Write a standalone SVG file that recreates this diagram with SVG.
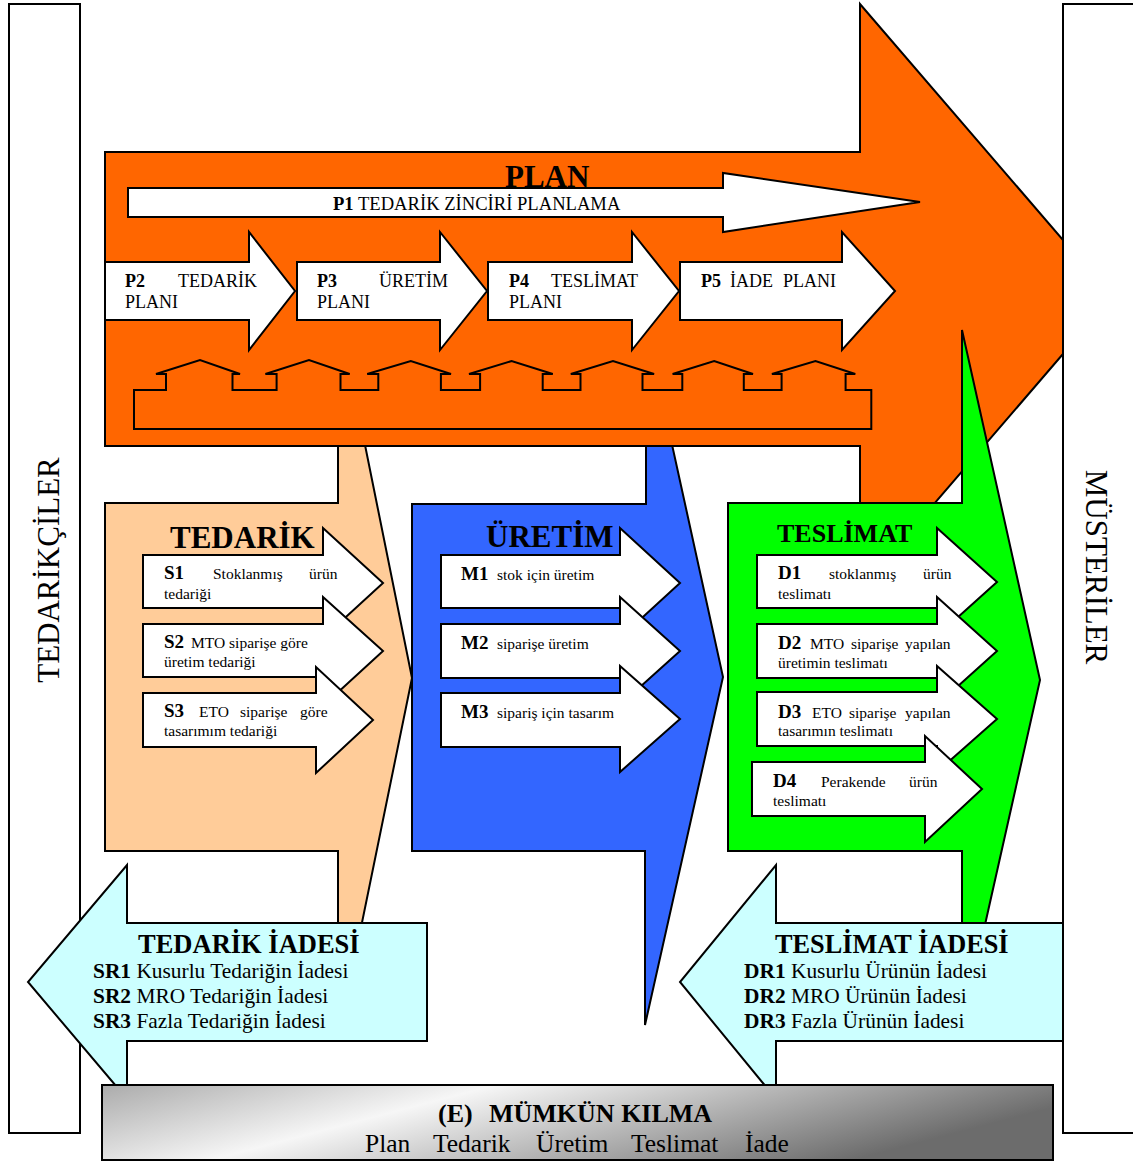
<svg xmlns="http://www.w3.org/2000/svg" width="1133" height="1162" viewBox="0 0 1133 1162">
  <defs>
    <linearGradient id="enableFill" x1="0" y1="0" x2="1" y2="0.3">
      <stop offset="0" stop-color="#ababab"/>
      <stop offset="0.38" stop-color="#f6f6f6"/>
      <stop offset="1" stop-color="#6c6c6c"/>
    </linearGradient>
  </defs>
  <style>
    .ol{stroke:#000;stroke-width:2;stroke-linejoin:miter}
    .wh{fill:#fff}
    .plan{fill:#ff6600}
    .sup{fill:#ffcc99}
    .mak{fill:#3366ff}
    .del{fill:#00ff00}
    .ret{fill:#ccffff}
    text{font-family:"Liberation Serif","Times New Roman",serif;fill:#000}
    .b{font-weight:bold}
    .t31{font-size:31px;font-weight:bold}
    .t26{font-size:26px;font-weight:bold}
    .p{font-size:18px}
    .s{font-size:15.5px}
    .sb{font-size:19px;font-weight:bold}
    .r{font-size:21.4px}
    .side{font-size:31px}
  </style>

  <!-- side bars -->
  <g id="suppliers">
    <rect class="ol wh" x="9" y="4" width="71" height="1129"/>
    <text class="side" text-anchor="middle" transform="translate(59,570) rotate(-90)">TEDARİKÇİLER</text>
  </g>

  <!-- process blocks lying under the plan arrow -->
  <g id="source">
    <polygon class="ol sup" points="105,503 338,503 338,440 364,440 412,678 338,1040 338,851 105,851"/>
  </g>
  <g id="make">
    <polygon class="ol mak" points="412,504 646,504 646,440 671,440 723,677 645,1025 645,851 412,851"/>
  </g>

  <!-- plan arrow -->
  <g id="plan">
    <polygon class="ol plan" points="105,152 860,152 860,4 1112,297 860,590 860,446 105,446"/>
    <polygon class="ol wh" points="128,188 723,188 723,173 920,202 723,232 723,217 128,217"/>
    <text class="t31" x="505" y="187">PLAN</text>
    <text x="333" y="210" style="font-size:18.6px"><tspan class="b">P1</tspan> TEDARİK ZİNCİRİ PLANLAMA</text>
  </g>
  <g id="p2">
    <polygon class="ol wh" points="105,262 249,262 249,232 295,291 249,350 249,320 105,320"/>
    <text class="p"><tspan class="b" x="125" y="287">P2</tspan><tspan x="178" y="287">TEDARİK</tspan><tspan x="125" y="308">PLANI</tspan></text>
  </g>
  <g id="p3">
    <polygon class="ol wh" points="297,262 440,262 440,232 487,291 440,350 440,320 297,320"/>
    <text class="p"><tspan class="b" x="317" y="287">P3</tspan><tspan x="379" y="287">ÜRETİM</tspan><tspan x="317" y="308">PLANI</tspan></text>
  </g>
  <g id="p4">
    <polygon class="ol wh" points="488,262 632,262 632,232 679,291 632,350 632,320 488,320"/>
    <text class="p"><tspan class="b" x="509" y="287">P4</tspan><tspan x="551" y="287">TESLİMAT</tspan><tspan x="509" y="308">PLANI</tspan></text>
  </g>
  <g id="p5">
    <polygon class="ol wh" points="680,262 842,262 842,232 895,291 842,350 842,320 680,320"/>
    <text class="p"><tspan class="b" x="701" y="287">P5</tspan><tspan x="730" y="287">İADE</tspan><tspan x="783" y="287">PLANI</tspan></text>
  </g>

  <!-- linking band under the planning steps -->
  <g id="connectors">
    <path class="ol" fill="none" d="M134,390 H166 V374 H156 L200,360 L240,374 H232.5 V390 H276.6 V374 H265.4 L309,360 L349.7,374 H340.5 V390 H378.3 V374 H367.2 L410.8,361 L451,374 H440.9 V390 H480.1 V374 H469 L511.6,361 L552.8,374 H542.7 V390 H580.5 V374 H570.8 L613,361 L654.1,374 H642.5 V390 H682.3 V374 H672.6 L714.2,361 L753,374 H743.8 V390 H781.6 V374 H771.9 L815.5,361 L855.3,374 H845.6 V390 H871.3 V429 H134 Z"/>
  </g>

  <!-- delivery block sits over the plan arrow -->
  <g id="deliver">
    <polygon class="ol del" points="728,503 962,503 962,330 1040,680 962,1027 962,851 728,851"/>
  </g>

  <!-- source steps -->
  <g id="source-title"><text class="t31" x="170" y="548">TEDARİK</text></g>
  <g id="s1">
    <polygon class="ol wh" points="143,555 323,555 323,528 383,583 323,638 323,608 143,608"/>
    <text class="s"><tspan class="sb" x="164" y="579">S1</tspan><tspan x="213" y="579">Stoklanmış</tspan><tspan x="309" y="579">ürün</tspan><tspan x="164" y="599">tedariği</tspan></text>
  </g>
  <g id="s2">
    <polygon class="ol wh" points="143,624 323,624 323,597 383,651 323,706 323,677 143,677"/>
    <text class="s"><tspan class="sb" x="164" y="648">S2</tspan><tspan x="191" y="648">MTO siparişe göre</tspan><tspan x="164" y="667">üretim tedariği</tspan></text>
  </g>
  <g id="s3">
    <polygon class="ol wh" points="143,693 316,693 316,667 373,720 316,773 316,747 143,747"/>
    <text class="s"><tspan class="sb" x="164" y="717">S3</tspan><tspan x="199" y="717">ETO</tspan><tspan x="240" y="717">siparişe</tspan><tspan x="300" y="717">göre</tspan><tspan x="164" y="736">tasarımım tedariği</tspan></text>
  </g>

  <!-- make steps -->
  <g id="make-title"><text class="t31" x="486" y="547">ÜRETİM</text></g>
  <g id="m1">
    <polygon class="ol wh" points="441,555 620,555 620,528 680,583 620,638 620,608 441,608"/>
    <text class="s"><tspan class="sb" x="461" y="580">M1</tspan><tspan x="497" y="580">stok için üretim</tspan></text>
  </g>
  <g id="m2">
    <polygon class="ol wh" points="441,624 620,624 620,597 680,651 620,705 620,678 441,678"/>
    <text class="s"><tspan class="sb" x="461" y="649">M2</tspan><tspan x="497" y="649">siparişe üretim</tspan></text>
  </g>
  <g id="m3">
    <polygon class="ol wh" points="441,693 620,693 620,666 680,719 620,772 620,747 441,747"/>
    <text class="s"><tspan class="sb" x="461" y="718">M3</tspan><tspan x="497" y="718">sipariş için tasarım</tspan></text>
  </g>

  <!-- deliver steps -->
  <g id="deliver-title"><text class="t26" x="777" y="542">TESLİMAT</text></g>
  <g id="d1">
    <polygon class="ol wh" points="757,555 937,555 937,528 997,582 937,636 937,608 757,608"/>
    <text class="s"><tspan class="sb" x="778" y="579">D1</tspan><tspan x="829" y="579">stoklanmış</tspan><tspan x="923" y="579">ürün</tspan><tspan x="778" y="599">teslimatı</tspan></text>
  </g>
  <g id="d2">
    <polygon class="ol wh" points="757,624 937,624 937,597 997,651 937,705 937,678 757,678"/>
    <text class="s"><tspan class="sb" x="778" y="649">D2</tspan><tspan x="810" y="649">MTO</tspan><tspan x="851" y="649">siparişe</tspan><tspan x="905" y="649">yapılan</tspan><tspan x="778" y="668">üretimin teslimatı</tspan></text>
  </g>
  <g id="d3">
    <polygon class="ol wh" points="757,692 937,692 937,666 997,719 937,772 937,746 757,746"/>
    <text class="s"><tspan class="sb" x="778" y="718">D3</tspan><tspan x="812" y="718">ETO</tspan><tspan x="849" y="718">siparişe</tspan><tspan x="905" y="718">yapılan</tspan><tspan x="778" y="736">tasarımın teslimatı</tspan></text>
  </g>
  <g id="d4">
    <polygon class="ol wh" points="752,762 925,762 925,736 982,789 925,842 925,816 752,816"/>
    <text class="s"><tspan class="sb" x="773" y="787">D4</tspan><tspan x="821" y="787">Perakende</tspan><tspan x="909" y="787">ürün</tspan><tspan x="773" y="806">teslimatı</tspan></text>
  </g>

  <!-- return arrows -->
  <g id="source-return">
    <polygon class="ol ret" points="427,923 127,923 127,865 28,982 127,1099 127,1041 427,1041"/>
    <text class="t26" x="138" y="953" style="font-size:26.5px">TEDARİK İADESİ</text>
    <text class="r"><tspan x="93" y="978"><tspan class="b">SR1</tspan> Kusurlu Tedariğin İadesi</tspan><tspan x="93" y="1003"><tspan class="b">SR2</tspan> MRO Tedariğin İadesi</tspan><tspan x="93" y="1028"><tspan class="b">SR3</tspan> Fazla Tedariğin İadesi</tspan></text>
  </g>
  <g id="deliver-return">
    <polygon class="ol ret" points="1075,923 776,923 776,865 680,982 776,1099 776,1041 1075,1041"/>
    <text class="t26" x="775" y="953" style="font-size:26.3px">TESLİMAT İADESİ</text>
    <text class="r"><tspan x="744" y="978"><tspan class="b">DR1</tspan> Kusurlu Ürünün İadesi</tspan><tspan x="744" y="1003"><tspan class="b">DR2</tspan> MRO Ürünün İadesi</tspan><tspan x="744" y="1028"><tspan class="b">DR3</tspan> Fazla Ürünün İadesi</tspan></text>
  </g>

  <g id="customers">
    <rect class="ol wh" x="1063" y="4" width="90" height="1129"/>
    <text class="side" text-anchor="middle" transform="translate(1086,567) rotate(90)">MÜSTERİLER</text>
  </g>

  <!-- enable bar -->
  <g id="enable">
    <rect class="ol" fill="url(#enableFill)" x="102" y="1085" width="951" height="75"/>
    <text class="t26"><tspan x="438" y="1122">(E)</tspan><tspan x="489" y="1122">MÜMKÜN KILMA</tspan></text>
    <text style="font-size:25.5px"><tspan x="365" y="1152">Plan</tspan><tspan x="433" y="1152">Tedarik</tspan><tspan x="536" y="1152">Üretim</tspan><tspan x="631" y="1152">Teslimat</tspan><tspan x="745" y="1152">İade</tspan></text>
  </g>
</svg>
